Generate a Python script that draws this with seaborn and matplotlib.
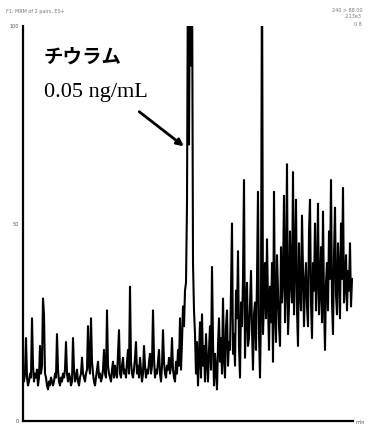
import numpy as np
import matplotlib
matplotlib.use("Agg")
import matplotlib.pyplot as plt
import seaborn as sns
import pandas as pd

# ---- data (relative intensity, % of full scale), one value per scan ----
baseline_part1 = [10, 12, 21, 11, 9, 10, 12, 11, 26, 14,
                  10, 12, 11, 13, 9, 11, 19, 12, 14, 31,
                  27, 12, 11, 9, 8, 10, 9, 11, 10, 9,
                  10, 12, 11, 22, 13, 10, 9, 11, 10, 12,
                  11, 13, 20, 12, 10, 12, 11, 9, 10, 21,
                  13, 10, 11, 13, 10, 9, 11, 12, 16, 12,
                  11, 10, 12, 13, 24, 14, 12, 26, 15, 12,
                  10, 9, 11, 13, 15, 11, 12, 10, 11, 13,
                  18, 12, 11, 28, 14, 12, 11]
baseline_part2 = [10, 13, 15, 11, 14, 12, 11, 17, 23, 12,
                  11, 14, 16, 12, 13, 11, 15, 18, 12, 34,
                  15, 12, 11, 13, 16, 20, 12, 14, 11, 16,
                  13, 10, 12, 19, 14, 11, 13, 12, 15, 17,
                  12, 14, 28, 16, 11, 13, 12, 15, 18, 12,
                  10, 14, 23, 15, 12, 11, 14, 13, 16, 12,
                  14, 21, 13, 11, 10, 15, 12, 18, 14, 26,
                  13, 20]
peak_part = [29, 24, 33, 35, 55, 120, 70, 120, 90, 120, 40, 28, 22]
after_peak = [12, 20, 9, 16, 25, 11, 27, 14, 19, 10,
              22, 15, 10, 18, 24, 13, 39, 20, 9, 17,
              13, 8, 19, 26, 15, 21, 12, 31, 16, 11,
              24, 28, 14, 20, 18, 33, 50, 17, 22, 14,
              33, 26, 43, 19, 11, 30, 24, 36, 61, 16,
              28, 35, 19, 21, 30, 38, 23, 13, 27, 30,
              18, 36, 58, 22, 11, 28, 120, 22, 31, 40,
              26, 46, 30, 18, 34, 25, 40, 15, 58, 27,
              20, 42, 33, 24, 19, 44, 30, 36, 57, 25,
              34, 65, 22, 29, 48, 35, 30, 63, 27, 40,
              56, 28, 19, 45, 33, 28, 52, 38, 24, 35,
              40, 29, 24, 48, 56, 30, 21, 40, 33, 50,
              28, 36, 55, 27, 33, 44, 25, 53, 30, 18,
              35, 40, 28, 48, 36, 61, 30, 22, 42, 54,
              32, 27, 45, 38, 26, 50, 36, 59, 30, 34,
              42, 28, 38, 33, 45, 29, 36]
intensity = baseline_part1 + baseline_part2 + peak_part + after_peak
scan = np.arange(len(intensity))

y_ticks = list(range(0, 101, 10))
y_tick_labels = ["0", "", "", "", "", "50", "", "", "", "", "100"]

compound = "チウラム"
conc = "0.05 ng/mL"
header_left = "F1: MRM of 2 pairs, ES+"
header_right = ["240 > 88.00", "2.13e3", "0 8"]
x_unit = "min"

df = pd.DataFrame({"scan": scan, "intensity": intensity})

sns.set_theme(style="white")
plt.rcParams["font.family"] = ["Noto Sans CJK JP", "DejaVu Sans"]

fig = plt.figure(figsize=(3.69, 4.25), dpi=100)
ax = fig.add_axes([23 / 369, 4 / 425, 330 / 369, 395 / 425])

sns.lineplot(data=df, x="scan", y="intensity", ax=ax, color="black",
             linewidth=1.5, estimator=None)

ax.set_xlim(-1, len(intensity))
ax.set_ylim(0, 100)
ax.set_xlabel("")
ax.set_ylabel("")
for s in ["top", "right"]:
    ax.spines[s].set_visible(False)
for s in ["left", "bottom"]:
    ax.spines[s].set_color("black")
    ax.spines[s].set_linewidth(1.6)

ax.set_yticks(y_ticks)
ax.set_yticklabels(y_tick_labels, fontsize=3.5, color="#555555", family="DejaVu Sans")
ax.tick_params(axis="y", direction="out", length=2, width=1, color="black", pad=1)
ax.set_xticks(np.arange(0, len(intensity), 4))
ax.set_xticklabels([])
ax.tick_params(axis="x", direction="out", length=2, width=0.8, color="black")

fig.text(355 / 369, 1 - 422 / 425, x_unit, fontsize=3.5, color="#555555",
         family="DejaVu Sans", va="center", ha="left")
fig.text(6 / 369, 1 - 12 / 425, header_left, fontsize=3.5, color="#777777",
         family="DejaVu Sans", va="center", ha="left")
for i, t in enumerate(header_right):
    fig.text(362 / 369, 1 - (10 + 7 * i) / 425, t, fontsize=3.5, color="#777777",
             family="DejaVu Sans", va="center", ha="right")

fig.text(44 / 369, 1 - 57 / 425, compound, fontsize=14, color="black", weight="bold",
         family=["Noto Sans CJK JP", "DejaVu Sans"], va="center", ha="left")
fig.text(44 / 369, 1 - 93 / 425, conc, fontsize=16, color="black",
         family=["Liberation Serif", "DejaVu Serif"], va="center", ha="left")

ax.annotate("", xy=(186 / 369, 1 - 148 / 425), xytext=(137 / 369, 1 - 110 / 425),
            xycoords="figure fraction", textcoords="figure fraction",
            arrowprops=dict(arrowstyle="-|>", lw=2, color="black", mutation_scale=10))

fig.savefig("out.png", dpi=100, facecolor="white")
